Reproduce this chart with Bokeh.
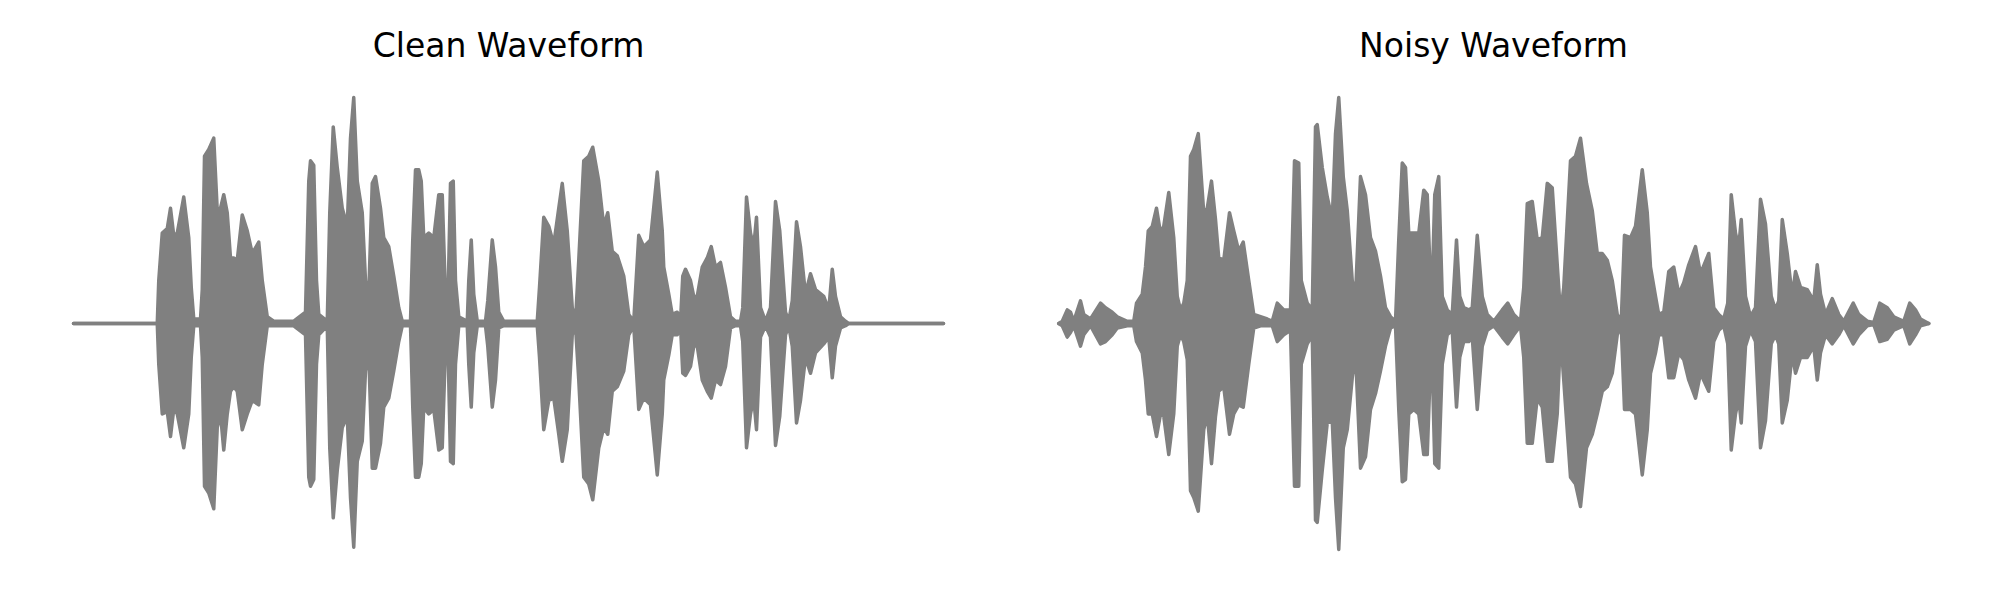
from bokeh.plotting import figure
from bokeh.layouts import row
from bokeh.models import Range1d
from bokeh.embed import file_html
from bokeh.resources import INLINE

# ---- data: waveform envelopes (time in ms, amplitude normalised) ----
clean_time_ms = [0, 335, 341, 355, 375, 388, 401, 415, 441, 461, 471, 481, 508, 515, 524, 541, 561, 575, 588, 601,
                 615, 628, 641, 655, 675, 695, 715, 741, 755, 775, 801, 881, 928, 941, 948, 961, 972, 981, 1015, 1025,
                 1039, 1055, 1075, 1095, 1108, 1121, 1135, 1155, 1168, 1181, 1195, 1208, 1228, 1241, 1261, 1281, 1301,
                 1315, 1348, 1357, 1368, 1381, 1391, 1401, 1421, 1441, 1461, 1475, 1488, 1497, 1508, 1519, 1528, 1541,
                 1575, 1581, 1591, 1601, 1615, 1648, 1657, 1675, 1688, 1701, 1721, 1761, 1855, 1864, 1881, 1901, 1921,
                 1941, 1955, 1975, 1995, 2008, 2021, 2041, 2061, 2077, 2101, 2121, 2137, 2155, 2175, 2201, 2221, 2241,
                 2261, 2281, 2308, 2335, 2355, 2361, 2381, 2395, 2415, 2428, 2437, 2448, 2468, 2481, 2495, 2515, 2535,
                 2551, 2568, 2588, 2608, 2628, 2648, 2668, 2677, 2692, 2708, 2721, 2732, 2748, 2768, 2788, 2808, 2825,
                 2848, 2861, 2875, 2892, 2908, 2928, 2948, 2968, 3001, 3021, 3035, 3048, 3068, 3088, 3100, 3480]
clean_upper = [0, 0, 0.19, 0.40, 0.42, 0.51, 0.39, 0.40, 0.56, 0.38, 0.16, 0.02, 0.02, 0.15, 0.74, 0.77, 0.82, 0.50,
               0.51, 0.57, 0.49, 0.29, 0.29, 0.28, 0.48, 0.41, 0.31, 0.36, 0.19, 0.03, 0.01, 0.01, 0.05, 0.63, 0.72,
               0.70, 0.19, 0.04, 0.01, 0.49, 0.87, 0.69, 0.51, 0.43, 0.82, 1.00, 0.63, 0.49, 0.19, 0.13, 0.62, 0.65,
               0.51, 0.38, 0.34, 0.21, 0.07, 0.01, 0.01, 0.37, 0.68, 0.68, 0.63, 0.38, 0.40, 0.38, 0.57, 0.57, 0.12,
               0.06, 0.62, 0.63, 0.19, 0.03, 0.01, 0.19, 0.37, 0.13, 0.01, 0.01, 0.10, 0.37, 0.25, 0.05, 0.01, 0.01,
               0.01, 0.16, 0.47, 0.43, 0.35, 0.51, 0.62, 0.41, 0.07, 0.01, 0.28, 0.72, 0.74, 0.78, 0.63, 0.43, 0.49,
               0.32, 0.30, 0.21, 0.04, 0.01, 0.39, 0.34, 0.37, 0.67, 0.41, 0.25, 0.13, 0.04, 0.05, 0.01, 0.21, 0.24,
               0.19, 0.12, 0.12, 0.25, 0.29, 0.34, 0.25, 0.27, 0.16, 0.03, 0.01, 0.01, 0.07, 0.56, 0.40, 0.34, 0.47,
               0.07, 0.01, 0.07, 0.54, 0.41, 0.05, 0.01, 0.10, 0.45, 0.34, 0.13, 0.22, 0.15, 0.12, 0.06, 0.24, 0.12,
               0.03, 0.01, 0, 0]
clean_lower = [0, 0, -0.18, -0.40, -0.39, -0.50, -0.38, -0.40, -0.55, -0.40, -0.15, -0.01, -0.01, -0.15, -0.72, -0.75,
               -0.82, -0.46, -0.40, -0.56, -0.40, -0.30, -0.28, -0.30, -0.47, -0.40, -0.34, -0.36, -0.18, -0.01,
               -0.01, -0.01, -0.05, -0.68, -0.72, -0.69, -0.18, -0.05, -0.01, -0.55, -0.86, -0.65, -0.46, -0.41,
               -0.77, -0.99, -0.61, -0.52, -0.21, -0.13, -0.64, -0.64, -0.53, -0.37, -0.33, -0.21, -0.08, -0.01,
               -0.01, -0.37, -0.68, -0.68, -0.62, -0.37, -0.40, -0.38, -0.56, -0.55, -0.10, -0.05, -0.61, -0.62,
               -0.18, -0.01, -0.01, -0.18, -0.37, -0.13, -0.01, -0.01, -0.10, -0.37, -0.25, -0.02, -0.01, -0.01,
               -0.01, -0.15, -0.47, -0.34, -0.33, -0.49, -0.61, -0.47, -0.05, -0.01, -0.25, -0.68, -0.71, -0.78,
               -0.55, -0.46, -0.49, -0.30, -0.28, -0.21, -0.05, -0.01, -0.38, -0.33, -0.36, -0.67, -0.40, -0.25,
               -0.14, -0.05, -0.05, -0.01, -0.22, -0.23, -0.19, -0.10, -0.10, -0.25, -0.30, -0.33, -0.25, -0.27,
               -0.19, -0.02, -0.01, -0.01, -0.08, -0.55, -0.40, -0.33, -0.47, -0.06, -0.01, -0.06, -0.54, -0.41,
               -0.05, -0.01, -0.10, -0.44, -0.34, -0.15, -0.22, -0.13, -0.09, -0.06, -0.24, -0.10, -0.02, -0.01, 0, 0]

noisy_time_ms = [1, 15, 35, 48, 61, 88, 101, 128, 168, 188, 215, 235, 275, 301, 312, 335, 348, 359, 375, 392, 408, 421,
                 441, 461, 475, 488, 501, 515, 528, 541, 559, 581, 595, 612, 628, 641, 661, 684, 701, 721, 739, 761,
                 781, 808, 835, 855, 875, 901, 928, 944, 961, 971, 995, 1015, 1028, 1035, 1055, 1075, 1095, 1108, 1121,
                 1139, 1155, 1175, 1188, 1208, 1228, 1248, 1268, 1288, 1308, 1328, 1348, 1361, 1375, 1388, 1401, 1421,
                 1441, 1461, 1475, 1492, 1505, 1521, 1535, 1555, 1575, 1592, 1605, 1621, 1641, 1655, 1675, 1695, 1715,
                 1741, 1775, 1797, 1821, 1848, 1861, 1875, 1895, 1915, 1935, 1955, 1975, 1995, 2008, 2021, 2048, 2068,
                 2088, 2112, 2135, 2155, 2175, 2195, 2215, 2235, 2251, 2264, 2288, 2308, 2335, 2355, 2368, 2388, 2401,
                 2421, 2441, 2461, 2481, 2501, 2521, 2548, 2568, 2601, 2621, 2641, 2661, 2677, 2691, 2708, 2721, 2731,
                 2748, 2768, 2788, 2808, 2828, 2851, 2868, 2881, 2895, 2915, 2935, 2948, 2968, 2995, 3021, 3035, 3048,
                 3068, 3095, 3121, 3141, 3179, 3201, 3235, 3261, 3285, 3315, 3341, 3381, 3405, 3428, 3448, 3481]
noisy_upper = [0, 0.01, 0.06, 0.05, 0.01, 0.10, 0.04, 0.02, 0.09, 0.07, 0.05, 0.03, 0.01, 0.01, 0.09, 0.13, 0.25,
               0.41, 0.43, 0.51, 0.40, 0.43, 0.58, 0.38, 0.12, 0.06, 0.09, 0.19, 0.74, 0.77, 0.84, 0.49, 0.51, 0.63,
               0.46, 0.29, 0.28, 0.49, 0.41, 0.32, 0.36, 0.19, 0.04, 0.03, 0.02, 0.01, 0.09, 0.06, 0.06, 0.72, 0.71,
               0.19, 0.09, 0.06, 0.87, 0.88, 0.69, 0.56, 0.46, 0.84, 1.00, 0.65, 0.50, 0.19, 0.12, 0.65, 0.57, 0.38,
               0.32, 0.21, 0.07, 0.03, 0.01, 0.37, 0.71, 0.69, 0.40, 0.40, 0.40, 0.59, 0.57, 0.06, 0.57, 0.65, 0.12,
               0.06, 0.04, 0.37, 0.12, 0.07, 0.06, 0.07, 0.39, 0.12, 0.04, 0.01, 0.06, 0.09, 0.04, 0.01, 0.16, 0.53,
               0.54, 0.37, 0.38, 0.62, 0.60, 0.26, 0.04, 0.16, 0.72, 0.74, 0.82, 0.62, 0.50, 0.31, 0.31, 0.28, 0.19,
               0.04, 0.01, 0.39, 0.38, 0.43, 0.68, 0.49, 0.25, 0.12, 0.04, 0.05, 0.23, 0.25, 0.13, 0.18, 0.26, 0.34,
               0.22, 0.31, 0.07, 0.04, 0.02, 0.09, 0.57, 0.40, 0.34, 0.46, 0.12, 0.03, 0.07, 0.55, 0.44, 0.12, 0.06,
               0.10, 0.46, 0.31, 0.12, 0.23, 0.16, 0.15, 0.10, 0.26, 0.13, 0.04, 0.11, 0.04, 0.01, 0.09, 0.04, 0.01,
               0.005, 0.09, 0.07, 0.03, 0.01, 0.09, 0.06, 0.02, 0]
noisy_lower = [0, -0.01, -0.06, -0.04, -0.01, -0.10, -0.05, -0.01, -0.09, -0.08, -0.05, -0.02, -0.01, -0.01, -0.08,
               -0.13, -0.25, -0.40, -0.40, -0.50, -0.40, -0.41, -0.58, -0.40, -0.10, -0.05, -0.08, -0.16, -0.74,
               -0.77, -0.83, -0.47, -0.40, -0.62, -0.41, -0.30, -0.28, -0.49, -0.40, -0.36, -0.37, -0.18, -0.02,
               -0.01, -0.01, -0.01, -0.08, -0.05, -0.03, -0.72, -0.72, -0.18, -0.09, -0.05, -0.87, -0.88, -0.65,
               -0.44, -0.43, -0.77, -1.00, -0.55, -0.47, -0.24, -0.13, -0.64, -0.59, -0.38, -0.31, -0.21, -0.10,
               -0.02, -0.01, -0.38, -0.70, -0.69, -0.40, -0.38, -0.40, -0.58, -0.58, -0.05, -0.62, -0.64, -0.18,
               -0.05, -0.03, -0.37, -0.15, -0.08, -0.08, -0.06, -0.38, -0.10, -0.03, -0.01, -0.06, -0.09, -0.05,
               -0.01, -0.15, -0.53, -0.53, -0.33, -0.37, -0.61, -0.61, -0.40, -0.05, -0.25, -0.68, -0.71, -0.81,
               -0.55, -0.49, -0.40, -0.30, -0.28, -0.22, -0.05, -0.01, -0.38, -0.38, -0.40, -0.67, -0.47, -0.22,
               -0.13, -0.05, -0.05, -0.24, -0.24, -0.13, -0.16, -0.25, -0.33, -0.22, -0.30, -0.08, -0.03, -0.01,
               -0.09, -0.56, -0.40, -0.33, -0.44, -0.10, -0.03, -0.08, -0.55, -0.43, -0.09, -0.05, -0.09, -0.44,
               -0.34, -0.13, -0.22, -0.15, -0.15, -0.10, -0.25, -0.13, -0.05, -0.09, -0.05, -0.01, -0.09, -0.05,
               -0.01, -0.005, -0.08, -0.07, -0.03, -0.01, -0.09, -0.05, -0.01, 0]

titles = ["Clean Waveform", "Noisy Waveform"]

WAVE_COLOR = "#808080"


def make_panel(title, t, up, lo, border_left, border_right):
    p = figure(width=992, height=592, output_backend="svg", toolbar_location=None,
               x_axis_location=None, y_axis_location=None,
               x_range=Range1d(-160, 3640), y_range=Range1d(-1.1637, 1.1637),
               min_border_left=border_left, min_border_right=border_right,
               min_border_top=60, min_border_bottom=6, title=title)
    p.grid.visible = False
    p.outline_line_color = None
    p.background_fill_color = "white"
    p.border_fill_color = "white"
    p.title.align = "center"
    p.title.text_font = "DejaVu Sans"
    p.title.text_font_size = "33px"
    p.title.text_font_style = "normal"
    p.title.text_color = "black"
    p.title.standoff = -9
    p.varea(x=t, y1=lo, y2=up, fill_color=WAVE_COLOR)
    p.line(x=t, y=up, line_color=WAVE_COLOR, line_width=3.5, line_join="round", line_cap="round")
    p.line(x=t, y=lo, line_color=WAVE_COLOR, line_width=3.5, line_join="round", line_cap="round")
    return p


p1 = make_panel(titles[0], clean_time_ms, clean_upper, clean_lower, 33, 9)
p2 = make_panel(titles[1], noisy_time_ms, noisy_upper, noisy_lower, 26, 16)

layout = row(p1, p2)
open("out.html", "w").write(file_html(layout, INLINE))
